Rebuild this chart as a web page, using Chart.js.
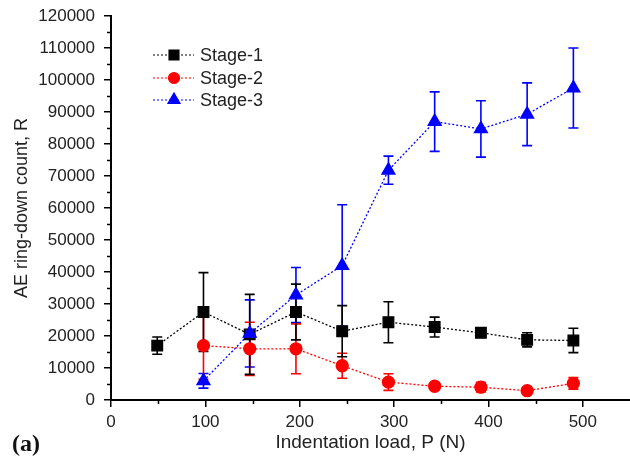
<!DOCTYPE html>
<html>
<head>
<meta charset="utf-8">
<script src="https://cdn.jsdelivr.net/npm/chart.js@4.4.1/dist/chart.umd.min.js"></script>
<style>
  html, body { margin: 0; padding: 0; background: #fff; }
  #wrap { width: 630px; height: 464px; }
</style>
</head>
<body>
<div id="wrap"><canvas id="grafico" width="630" height="464"></canvas></div>
<script>
// dados
var cargas = [49, 98, 147, 196, 245, 294, 343, 392, 441, 490];
var nomes = ['Stage-1', 'Stage-2', 'Stage-3'];
var estagio1 = [17000, 27500, 20500, 27500, 21500, 24300, 22800, 21000, 18800, 18600];
var erro1    = [2700, 12300, 12500, 8700, 8000, 6400, 3100, 1000, 2200, 3800];
var estagio2 = [null, 17000, 16000, 16000, 10700, 5600, 4300, 4000, 2900, 5200];
var erro2    = [null, 10500, 8300, 7800, 3900, 2600, 1000, 1500, 700, 1800];
var estagio3 = [null, 6000, 20800, 32800, 42000, 71800, 87000, 84700, 89300, 97500];
var erro3    = [null, 2300, 10500, 8600, 19000, 4400, 9300, 8800, 9800, 12500];
var ticksX = [0, 100, 200, 300, 400, 500];
var ticksY = [0, 10000, 20000, 30000, 40000, 50000, 60000, 70000, 80000, 90000, 100000, 110000, 120000];

function pontos(ys) {
  return cargas.map(function (x, i) { return { x: x, y: ys[i] }; }).filter(function (p) { return p.y !== null; });
}

var fonte = '"Liberation Sans", Arial, Helvetica, sans-serif';

// barras de erro, desenhadas antes dos marcadores
var barrasErro = {
  id: 'barrasErro',
  beforeDatasetsDraw: function (chart) {
    var ctx = chart.ctx, xs = chart.scales.x, ys = chart.scales.y;
    var erros = [erro1, erro2, erro3];
    var series = [estagio1, estagio2, estagio3];
    ctx.save();
    for (var d = series.length - 1; d >= 0; d--) {
      ctx.strokeStyle = chart.data.datasets[d].borderColor;
      ctx.lineWidth = 1.6;
      for (var i = 0; i < cargas.length; i++) {
        if (series[d][i] === null) continue;
        var px = xs.getPixelForValue(cargas[i]);
        var top = ys.getPixelForValue(series[d][i] + erros[d][i]);
        var bot = ys.getPixelForValue(series[d][i] - erros[d][i]);
        ctx.beginPath();
        ctx.moveTo(px, top); ctx.lineTo(px, bot);
        ctx.moveTo(px - 5, top); ctx.lineTo(px + 5, top);
        ctx.moveTo(px - 5, bot); ctx.lineTo(px + 5, bot);
        ctx.stroke();
      }
    }
    ctx.restore();
  },
  afterDraw: function (chart) {
    var ctx = chart.ctx, xs = chart.scales.x, ys = chart.scales.y, area = chart.chartArea;
    ctx.save();
    // ticks menores
    ctx.strokeStyle = '#000';
    ctx.lineWidth = 1.5;
    ctx.beginPath();
    for (var v = 5000; v < 120000; v += 10000) {
      var py = Math.round(ys.getPixelForValue(v)) + 0.5;
      ctx.moveTo(area.left - 4, py); ctx.lineTo(area.left, py);
    }
    for (var h = 50; h < 550; h += 100) {
      var px = Math.round(xs.getPixelForValue(h)) + 0.5;
      ctx.moveTo(px, area.bottom); ctx.lineTo(px, area.bottom + 4);
    }
    ctx.stroke();

    // legenda
    var linhas = [55, 78, 100];
    chart.data.datasets.forEach(function (ds, i) {
      var y = linhas[i];
      ctx.strokeStyle = ds.borderColor;
      ctx.lineWidth = 1.2;
      ctx.setLineDash([2, 2]);
      ctx.beginPath();
      ctx.moveTo(153, y); ctx.lineTo(194, y);
      ctx.stroke();
      ctx.setLineDash([]);
      ctx.fillStyle = ds.backgroundColor;
      ctx.strokeStyle = ds.borderColor;
      Chart.helpers.drawPoint(ctx, { pointStyle: ds.pointStyle, radius: ds.pointRadius - 0.5, rotation: 0, borderWidth: 1 }, 174, y);
      ctx.fillStyle = '#222';
      ctx.font = '18px ' + fonte;
      ctx.textBaseline = 'middle';
      ctx.textAlign = 'left';
      ctx.fillText(ds.label, 200, y + 1);
    });

    // rótulo do painel
    ctx.fillStyle = '#111';
    ctx.font = 'bold 24px "Liberation Serif", "Times New Roman", serif';
    ctx.textBaseline = 'alphabetic';
    ctx.fillText('(a)', 12, 451);
    ctx.restore();
  }
};

var ctx = document.getElementById('grafico').getContext('2d');

var grafico = new Chart(ctx, {
  type: 'line',
  data: {
    datasets: [{
      label: nomes[0],
      data: pontos(estagio1),
      borderColor: '#000000',
      backgroundColor: '#000000',
      pointStyle: 'rect',
      pointRadius: 7.5,
      borderWidth: 1.3,
      borderDash: [2, 2],
      order: 2
    }, {
      label: nomes[1],
      data: pontos(estagio2),
      borderColor: '#ff0000',
      backgroundColor: '#ff0000',
      pointStyle: 'circle',
      pointRadius: 6,
      borderWidth: 1.3,
      borderDash: [2, 2],
      order: 1
    }, {
      label: nomes[2],
      data: pontos(estagio3),
      borderColor: '#0000ff',
      backgroundColor: '#0000ff',
      pointStyle: 'triangle',
      pointRadius: 7.5,
      borderWidth: 1.3,
      borderDash: [2, 2],
      order: 0
    }]
  },
  options: {
    responsive: false,
    animation: false,
    events: [],
    layout: { autoPadding: false, padding: { top: 16, right: 0, bottom: 0, left: 0 } },
    plugins: { legend: { display: false }, tooltip: { enabled: false } },
    elements: { point: { borderWidth: 1, hoverRadius: 7 } },
    scales: {
      x: {
        type: 'linear',
        min: 0, max: 550,
        afterFit: function (s) { s.height = 64; s.paddingRight = 0; s.paddingLeft = 0; },
        afterBuildTicks: function (s) { s.ticks = ticksX.map(function (v) { return { value: v }; }); },
        ticks: { padding: 5, color: '#222', font: { family: fonte, size: 17 }, maxRotation: 0 },
        grid: { drawOnChartArea: false, drawTicks: true, tickLength: 7, color: '#000', lineWidth: 1.5 },
        border: { color: '#000', width: 2 },
        title: { display: true, text: 'Indentation load, P (N)', color: '#222', font: { family: fonte, size: 19 }, padding: { bottom: 10 } }
      },
      y: {
        min: 0, max: 120000,
        afterFit: function (s) { s.width = 111; s.paddingTop = 0; s.paddingBottom = 0; },
        afterBuildTicks: function (s) { s.ticks = ticksY.map(function (v) { return { value: v }; }); },
        ticks: { padding: 9, color: '#222', font: { family: fonte, size: 17 }, callback: function (v) { return String(v); } },
        grid: { drawOnChartArea: false, drawTicks: true, tickLength: 7, color: '#000', lineWidth: 1.5 },
        border: { color: '#000', width: 2 },
        title: { display: true, text: 'AE ring-down count, R', color: '#222', font: { family: fonte, size: 18 }, padding: { top: 11 } }
      }
    }
  },
  plugins: [barrasErro]
});
</script>
</body>
</html>
